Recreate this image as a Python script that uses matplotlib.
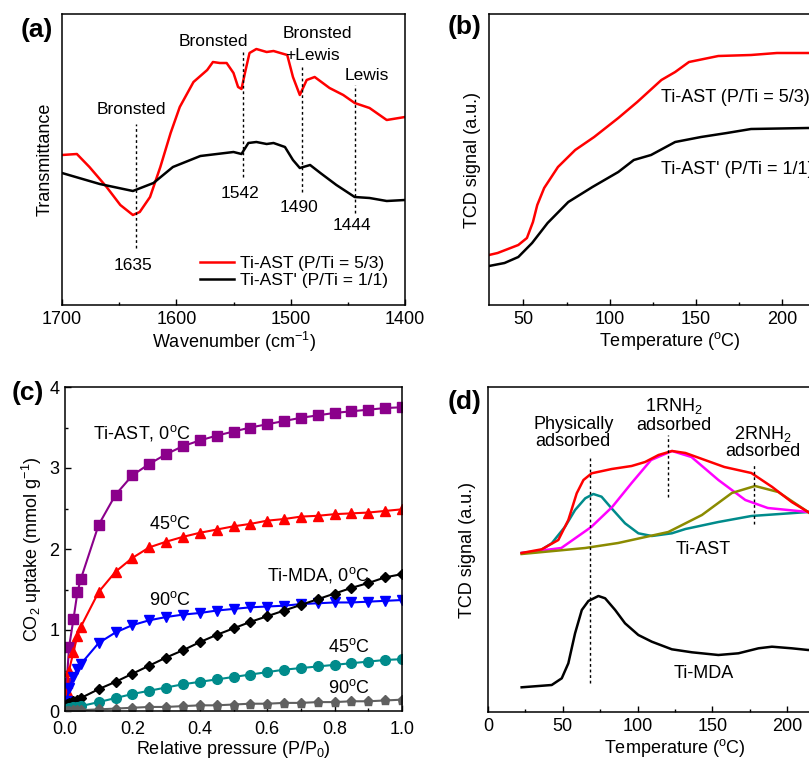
import matplotlib
matplotlib.use('Agg')
import matplotlib.pyplot as plt
from matplotlib.ticker import MultipleLocator, FormatStrFormatter

plt.rcParams['font.family'] = ['Liberation Sans', 'DejaVu Sans']
plt.rcParams['mathtext.fontset'] = 'custom'
plt.rcParams['mathtext.rm'] = 'Liberation Sans'
plt.rcParams['mathtext.it'] = 'Liberation Sans:italic'
plt.rcParams['mathtext.bf'] = 'Liberation Sans:bold'
plt.rcParams['axes.linewidth'] = 1.1

# (a) FTIR, pyridine adsorbed
wn_ast = [1700, 1687, 1676, 1661, 1649, 1638, 1632, 1623, 1614, 1605, 1597, 1585, 1573, 1568,
          1562, 1556, 1550, 1546, 1543, 1540, 1536, 1530, 1521, 1515, 1503, 1498, 1492, 1486,
          1479, 1466, 1454, 1444, 1431, 1416, 1400]
tr_ast = [150, 151, 138, 118, 100, 90, 93, 108, 138, 172, 198, 223, 235, 243,
          242, 242, 232, 218, 216, 232, 252, 256, 253, 254, 250, 228, 210, 225,
          228, 217, 210, 202, 197, 185, 188]
wn_ast2 = [1700, 1667, 1638, 1620, 1603, 1579, 1550, 1543, 1537, 1530, 1521, 1515, 1505, 1498,
           1492, 1483, 1474, 1460, 1444, 1431, 1416, 1400]
tr_ast2 = [132, 121, 114, 122, 138, 149, 153, 151, 162, 163, 161, 162, 158, 145,
           137, 140, 132, 120, 108, 107, 104, 105]
peak_wn = [1635, 1542, 1490, 1444]
peak_lo = [57, 128, 113, 92]
peak_hi = [181, 254, 240, 220]

# (b) NH3-TPD
t_b_ast = [30, 35, 47, 52, 55.5, 58, 62, 70, 80, 91, 105, 116, 130, 138, 146, 163, 182, 197, 215, 240]
s_b_ast = [50, 52, 60, 67, 83, 100, 117, 138, 155, 168, 187, 203, 225, 233, 243, 249, 250, 252, 252, 252]
t_b_ast2 = [30, 39, 47, 55, 64, 76, 90, 105, 114, 124, 138, 153, 168, 182, 215, 240]
s_b_ast2 = [39, 42, 48, 62, 82, 103, 118, 133, 145, 150, 163, 168, 172, 176, 177, 177]

# (c) CO2 isotherms
p_rel = [0.005, 0.012, 0.025, 0.037, 0.047, 0.10, 0.15, 0.20, 0.25, 0.30, 0.35, 0.40,
         0.45, 0.50, 0.55, 0.60, 0.65, 0.70, 0.75, 0.80, 0.85, 0.90, 0.95, 1.00]
ast_0 = [0.35, 0.79, 1.13, 1.47, 1.63, 2.30, 2.67, 2.91, 3.05, 3.17, 3.27, 3.34,
         3.40, 3.45, 3.50, 3.54, 3.58, 3.62, 3.65, 3.68, 3.70, 3.72, 3.74, 3.75]
ast_45 = [0.25, 0.50, 0.73, 0.93, 1.04, 1.47, 1.72, 1.89, 2.02, 2.09, 2.15, 2.20,
          2.24, 2.28, 2.31, 2.35, 2.37, 2.40, 2.41, 2.43, 2.44, 2.45, 2.47, 2.49]
ast_90 = [0.12, 0.28, 0.42, 0.52, 0.58, 0.84, 0.97, 1.06, 1.12, 1.16, 1.19, 1.21,
          1.24, 1.26, 1.28, 1.29, 1.30, 1.32, 1.33, 1.34, 1.34, 1.35, 1.36, 1.37]
mda_0 = [0.09, 0.10, 0.12, 0.14, 0.16, 0.27, 0.36, 0.46, 0.56, 0.66, 0.75, 0.85,
         0.94, 1.02, 1.10, 1.17, 1.24, 1.31, 1.38, 1.45, 1.52, 1.58, 1.65, 1.69]
mda_45 = [0.03, 0.04, 0.05, 0.05, 0.06, 0.11, 0.16, 0.21, 0.25, 0.29, 0.33, 0.36,
          0.39, 0.42, 0.45, 0.48, 0.51, 0.53, 0.55, 0.57, 0.59, 0.61, 0.63, 0.64]
mda_90 = [0.00, 0.00, 0.01, 0.01, 0.01, 0.02, 0.03, 0.04, 0.05, 0.05, 0.06, 0.07,
          0.07, 0.08, 0.09, 0.09, 0.10, 0.10, 0.11, 0.11, 0.12, 0.12, 0.13, 0.14]

# (d) amine TPD with deconvolution
t_d_tot = [22.5, 35.9, 47, 53.7, 59.3, 63.8, 69.3, 82.7, 96, 105, 114, 123, 132, 145, 158, 176, 190, 203, 214, 222]
s_d_tot = [159, 162.7, 172, 192, 218.7, 232, 238.7, 243, 246, 250, 257, 261, 259, 252, 245, 239, 225, 210, 200, 193]
t_d_phys = [22.5, 33.7, 42.6, 51.5, 58.2, 65, 70.4, 75.9, 82.6, 91.6, 100.5, 109.5, 122.9, 132, 154, 176, 214, 222]
s_d_phys = [159, 160.3, 168.7, 185.3, 202, 213.7, 218, 215.3, 203.7, 188.7, 178.7, 176, 178.7, 183, 190, 196, 200, 200.5]
t_d_one = [22.5, 49, 69, 83, 96, 109, 123, 136, 154, 172, 187, 214, 222]
s_d_one = [159, 164, 185, 205, 229, 252, 261, 255, 232, 212, 204, 200, 199]
t_d_two = [22.5, 65, 87, 120.5, 143, 163, 178.5, 194, 214, 222]
s_d_two = [158, 164, 169, 180, 197, 219, 226, 220, 200, 190]
t_d_mda = [22.5, 42.6, 49.3, 53.7, 58.2, 62.7, 67.1, 73.8, 78.3, 85, 91.6, 100.5, 109.5,
           122.9, 136.3, 154, 167.4, 180.8, 189.8, 203, 214, 222]
s_d_mda = [24.7, 27, 33.7, 48.7, 78.7, 102, 111, 116, 113.7, 102, 88.7, 77, 70.3,
           62.7, 59.7, 57, 58.7, 63.7, 65.3, 63.7, 62, 62]

W, H = 809, 765
fig = plt.figure(figsize=(W / 100, H / 100), dpi=100)


def px_axes(left, top, width, height):
    return fig.add_axes([left / W, 1 - (top + height) / H, width / W, height / H])


def style(ax, ylabel_ticks=False):
    ax.tick_params(axis='both', which='both', direction='in', labelsize=13, pad=4)
    ax.tick_params(which='major', length=4, width=1.0)
    ax.tick_params(which='minor', length=2.5, width=1.0)
    if not ylabel_ticks:
        ax.set_yticks([])


# ---- (a)
ax = px_axes(62, 14, 343, 291)
ax.plot(wn_ast, tr_ast, color='red', lw=1.8, label='Ti-AST (P/Ti = 5/3)')
ax.plot(wn_ast2, tr_ast2, color='black', lw=1.8, label="Ti-AST' (P/Ti = 1/1)")
for w, lo, hi in zip(peak_wn, peak_lo, peak_hi):
    ax.plot([w, w], [lo, hi], color='black', lw=1.0, ls=(0, (2, 2)))
ax.text(1639, 195, 'Bronsted', fontsize=12.5, ha='center', va='center')
ax.text(1568, 263, 'Bronsted', fontsize=12.5, ha='center', va='center')
ax.text(1477, 271, 'Bronsted', fontsize=12.5, ha='center', va='center')
ax.text(1481, 250, '+Lewis', fontsize=12.5, ha='center', va='center')
ax.text(1433, 230, 'Lewis', fontsize=12.5, ha='center', va='center')
ax.text(1638, 40, '1635', fontsize=12.5, ha='center', va='center')
ax.text(1544, 112, '1542', fontsize=12.5, ha='center', va='center')
ax.text(1493, 98, '1490', fontsize=12.5, ha='center', va='center')
ax.text(1446, 80, '1444', fontsize=12.5, ha='center', va='center')
ax.set_xlim(1700, 1400)
ax.set_ylim(0, 291)
ax.xaxis.set_major_locator(MultipleLocator(100))
ax.xaxis.set_minor_locator(MultipleLocator(50))
style(ax)
ax.set_xlabel('Wavenumber (cm$^{-1}$)', fontsize=13, labelpad=2)
ax.set_ylabel('Transmittance', fontsize=13, labelpad=6)
ax.legend(loc='lower right', frameon=False, fontsize=12.5, handlelength=2.0,
          handletextpad=0.3, labelspacing=0.1, borderaxespad=0.6)

# ---- (b)
ax = px_axes(489, 14, 362, 291)
ax.plot(t_b_ast, s_b_ast, color='red', lw=1.8)
ax.plot(t_b_ast2, s_b_ast2, color='black', lw=1.8)
ax.text(130, 207, 'Ti-AST (P/Ti = 5/3)', fontsize=13, ha='left', va='center')
ax.text(130, 135, "Ti-AST' (P/Ti = 1/1)", fontsize=13, ha='left', va='center')
ax.set_xlim(30, 240)
ax.set_ylim(0, 291)
ax.xaxis.set_major_locator(MultipleLocator(50))
ax.xaxis.set_minor_locator(MultipleLocator(25))
style(ax)
ax.set_xlabel(r'Temperature ($^\mathrm{o}$C)', fontsize=13, labelpad=2)
ax.set_ylabel('TCD signal (a.u.)', fontsize=13, labelpad=6)

# ---- (c)
ax = px_axes(65, 387, 337, 324)
ax.plot(p_rel, ast_0, color='#8b008b', marker='s', ms=6.5, lw=1.5)
ax.plot(p_rel, ast_45, color='red', marker='^', ms=7.5, lw=1.5)
ax.plot(p_rel, ast_90, color='blue', marker='v', ms=7.5, lw=1.5)
ax.plot(p_rel, mda_0, color='black', marker='D', ms=5.5, lw=1.5)
ax.plot(p_rel, mda_45, color='#008b8b', marker='o', ms=7, lw=1.5)
ax.plot(p_rel, mda_90, color='#606060', marker='p', ms=6.5, lw=1.5)
ax.text(0.083, 3.43, r'Ti-AST, 0$^\mathrm{o}$C', fontsize=13, va='center')
ax.text(0.25, 2.31, r'45$^\mathrm{o}$C', fontsize=13, va='center')
ax.text(0.60, 1.68, r'Ti-MDA, 0$^\mathrm{o}$C', fontsize=13, va='center')
ax.text(0.25, 1.37, r'90$^\mathrm{o}$C', fontsize=13, va='center')
ax.text(0.78, 0.79, r'45$^\mathrm{o}$C', fontsize=13, va='center')
ax.text(0.78, 0.28, r'90$^\mathrm{o}$C', fontsize=13, va='center')
ax.set_xlim(0, 1)
ax.set_ylim(0, 4)
ax.xaxis.set_major_locator(MultipleLocator(0.2))
ax.xaxis.set_minor_locator(MultipleLocator(0.1))
ax.yaxis.set_major_locator(MultipleLocator(1))
ax.yaxis.set_minor_locator(MultipleLocator(0.5))
ax.xaxis.set_major_formatter(FormatStrFormatter('%.1f'))
style(ax, ylabel_ticks=True)
ax.tick_params(axis='x', pad=7)
ax.set_xlabel('Relative pressure (P/P$_0$)', fontsize=13, labelpad=1)
ax.set_ylabel('CO$_2$ uptake (mmol g$^{-1}$)', fontsize=13, labelpad=4)

# ---- (d)
ax = px_axes(488, 387, 374, 325)
ax.plot(t_d_phys, s_d_phys, color='#008b8b', lw=1.8)
ax.plot(t_d_one, s_d_one, color='magenta', lw=1.8)
ax.plot(t_d_two, s_d_two, color='#8b8b00', lw=1.8)
ax.plot(t_d_tot, s_d_tot, color='red', lw=1.8)
ax.plot(t_d_mda, s_d_mda, color='black', lw=1.8)
ax.plot([68, 68], [29, 255], color='black', lw=1.0, ls=(0, (2, 2)))
ax.plot([120, 120], [215, 277], color='black', lw=1.0, ls=(0, (2, 2)))
ax.plot([178, 178], [188, 249], color='black', lw=1.0, ls=(0, (2, 2)))
ax.text(57, 279, 'Physically\nadsorbed', fontsize=13, ha='center', va='center', linespacing=1.0)
ax.text(124, 297, '1RNH$_2$\nadsorbed', fontsize=13, ha='center', va='center', linespacing=1.0)
ax.text(184, 270, '2RNH$_2$\nadsorbed', fontsize=13, ha='center', va='center', linespacing=1.0)
ax.text(144, 162, 'Ti-AST', fontsize=13, ha='center', va='center')
ax.text(144, 39, 'Ti-MDA', fontsize=13, ha='center', va='center')
ax.set_xlim(0, 250)
ax.set_ylim(0, 325)
ax.xaxis.set_major_locator(MultipleLocator(50))
ax.xaxis.set_minor_locator(MultipleLocator(25))
style(ax)
ax.set_xlabel(r'Temperature ($^\mathrm{o}$C)', fontsize=13, labelpad=2)
ax.set_ylabel('TCD signal (a.u.)', fontsize=13, labelpad=9)

# panel letters
fig.text(21 / W, 1 - 30 / H, '(a)', fontsize=19, fontweight='bold', va='center')
fig.text(448 / W, 1 - 27 / H, '(b)', fontsize=19, fontweight='bold', va='center')
fig.text(12 / W, 1 - 393 / H, '(c)', fontsize=19, fontweight='bold', va='center')
fig.text(448 / W, 1 - 402 / H, '(d)', fontsize=19, fontweight='bold', va='center')

fig.savefig('out.png', dpi=100)
